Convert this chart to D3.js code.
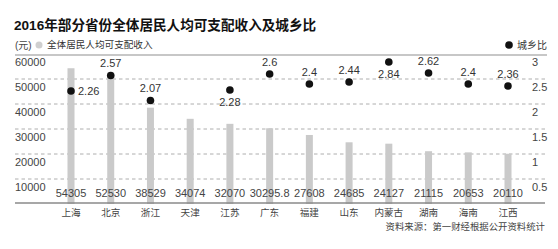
<!DOCTYPE html>
<html><head><meta charset="utf-8">
<script src="https://cdn.jsdelivr.net/npm/d3@7/dist/d3.min.js"></script>
<style>
html,body{margin:0;padding:0;background:#fff;}
text{font-family:"Liberation Sans","Noto Sans CJK SC",sans-serif;}
</style></head>
<body><svg id="c" width="558" height="249"></svg>
<script>
const categories = ["上海","北京","浙江","天津","江苏","广东","福建","山东","内蒙古","湖南","海南","江西"];
const incomeValues = [54305,52530,38529,34074,32070,30295.8,27608,24685,24127,21115,20653,20110];
const incomeLabels = ["54305","52530","38529","34074","32070","30295.8","27608","24685","24127","21115","20653","20110"];
const ratioValues = [2.26,2.57,2.07,null,2.28,2.6,2.4,2.44,2.84,2.62,2.4,2.36];
const ratioLabelPos = ["right","above","above",null,"below","above","above","above","below","above","above","above"];
const leftTicks = [10000,20000,30000,40000,50000,60000];
const rightTicks = [0.5,1,1.5,2,2.5,3];

const svg = d3.select("#c");
const x = d3.scalePoint().domain(categories).range([71, 508]);
const yL = d3.scaleLinear().domain([0, 60000]).range([204, 54]);
const yR = d3.scaleLinear().domain([0, 3]).range([204, 54]);

// title
svg.append("text").attr("x", 14).attr("y", 30)
  .attr("font-family", "Noto Sans CJK SC").attr("font-weight", "bold")
  .attr("font-size", 13.6).attr("fill", "#111")
  .text("2016年部分省份全体居民人均可支配收入及城乡比");

// legend
svg.append("text").attr("x", 15).attr("y", 45).attr("dy", "0.35em")
  .attr("font-family", "Noto Sans CJK SC").attr("font-size", 10).attr("fill", "#444").text("(元)");
svg.append("circle").attr("cx", 39).attr("cy", 45).attr("r", 3.5).attr("fill", "#cfcfcf");
svg.append("text").attr("x", 47).attr("y", 45).attr("dy", "0.35em")
  .attr("font-family", "Noto Sans CJK SC").attr("font-size", 9.6).attr("fill", "#333").text("全体居民人均可支配收入");
svg.append("circle").attr("cx", 509).attr("cy", 45).attr("r", 3.8).attr("fill", "#111");
svg.append("text").attr("x", 517).attr("y", 45).attr("dy", "0.35em")
  .attr("font-family", "Noto Sans CJK SC").attr("font-size", 10).attr("fill", "#333").text("城乡比");

// top line
svg.append("line").attr("x1", 15).attr("x2", 547).attr("y1", 55).attr("y2", 55)
  .attr("stroke", "#b5b5b5").attr("stroke-width", 1.5);

// gridlines
svg.append("g").selectAll("line").data(leftTicks.filter(d => d < 60000)).join("line")
  .attr("x1", 15).attr("x2", 545)
  .attr("y1", d => yL(d)).attr("y2", d => yL(d))
  .attr("stroke", "#9a9a9a").attr("stroke-width", 0.8).attr("stroke-dasharray", "3.5,3");

// left tick labels
svg.append("g").selectAll("text").data(leftTicks).join("text")
  .attr("x", 15).attr("y", d => yL(d) + 8).attr("dy", "0.35em")
  .attr("font-size", 11).attr("fill", "#444").text(d => d);

// right tick labels
svg.append("g").selectAll("text").data(rightTicks).join("text")
  .attr("x", 532).attr("y", d => yR(d) + 8).attr("dy", "0.35em")
  .attr("font-size", 11).attr("fill", "#444").text(d => d);

// bars
const bw = 7;
svg.append("g").selectAll("rect").data(categories).join("rect")
  .attr("x", (d) => x(d) - bw / 2).attr("width", bw)
  .attr("y", (d, i) => yL(incomeValues[i]))
  .attr("height", (d, i) => yL(0) - yL(incomeValues[i]))
  .attr("fill", "#cacaca");

// value labels
svg.append("g").selectAll("text").data(categories).join("text")
  .attr("x", d => x(d)).attr("y", 193).attr("dy", "0.35em")
  .attr("text-anchor", "middle").attr("font-size", 11).attr("fill", "#444")
  .attr("stroke", "#fff").attr("stroke-width", 0).text((d, i) => incomeLabels[i]);

// baseline
svg.append("line").attr("x1", 15).attr("x2", 545).attr("y1", 203).attr("y2", 203)
  .attr("stroke", "#8a8a8a").attr("stroke-width", 1.5);

// category labels
svg.append("g").selectAll("text").data(categories).join("text")
  .attr("x", d => x(d)).attr("y", 213).attr("dy", "0.35em")
  .attr("text-anchor", "middle").attr("font-family", "Noto Sans CJK SC")
  .attr("font-size", 9.6).attr("fill", "#444").text(d => d);

// ratio dots
const pts = categories.map((c, i) => ({c, v: ratioValues[i], pos: ratioLabelPos[i]})).filter(d => d.v != null);
svg.append("g").selectAll("circle").data(pts).join("circle")
  .attr("cx", d => x(d.c)).attr("cy", d => yR(d.v)).attr("r", 3.8).attr("fill", "#111");
svg.append("g").selectAll("text").data(pts).join("text")
  .attr("x", d => d.pos === "right" ? x(d.c) + 7 : x(d.c))
  .attr("y", d => d.pos === "above" ? yR(d.v) - 12 : d.pos === "below" ? yR(d.v) + 12 : yR(d.v))
  .attr("dy", "0.35em")
  .attr("text-anchor", d => d.pos === "right" ? "start" : "middle")
  .attr("font-size", 11).attr("fill", "#333").text(d => d.v);

// source
svg.append("text").attr("x", 545).attr("y", 227).attr("dy", "0.35em")
  .attr("text-anchor", "end").attr("font-family", "Noto Sans CJK SC")
  .attr("font-size", 9.4).attr("fill", "#444").text("资料来源：第一财经根据公开资料统计");
</script></body></html>
